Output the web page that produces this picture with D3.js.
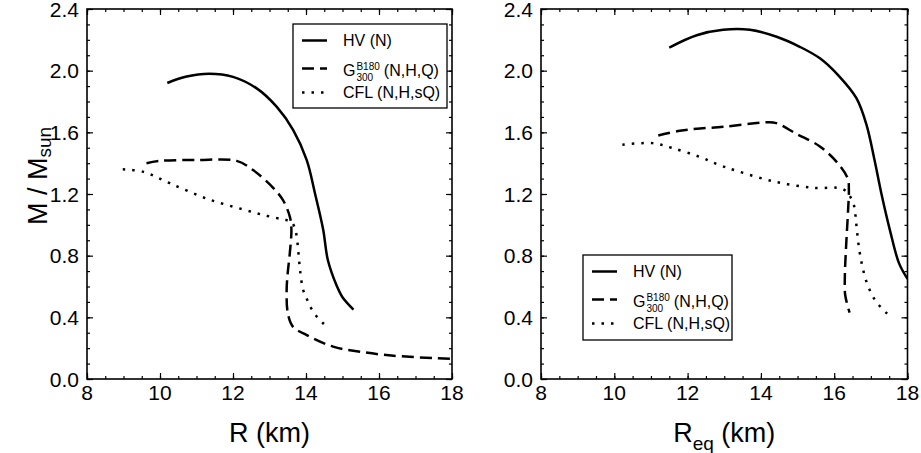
<!DOCTYPE html>
<html><head><meta charset="utf-8">
<script src="https://cdn.jsdelivr.net/npm/d3@7"></script>
<style>html,body{margin:0;padding:0;background:#fff;}svg{display:block;}text{font-family:"Liberation Sans",Arial,Helvetica,sans-serif;fill:#000;}</style>
</head><body>
<svg id="c" width="921" height="453"></svg>
<script>
// ---------- data ----------
const seriesNames = ["HV (N)", "G (N,H,Q)", "CFL (N,H,sQ)"];
const xTicks = [8, 10, 12, 14, 16, 18];
const yTicks = [0.0, 0.4, 0.8, 1.2, 1.6, 2.0, 2.4];

// left panel: R (km) vs M/Msun
const leftHV_R  = [10.2, 10.7, 11.35, 12.0, 12.65, 13.2, 13.65, 14.02, 14.25, 14.47, 14.6, 14.85, 15.0, 15.3];
const leftHV_M  = [1.92, 1.96, 1.98, 1.96, 1.885, 1.765, 1.615, 1.42, 1.20, 0.97, 0.77, 0.60, 0.53, 0.45];
const leftG_R   = [9.63, 10.0, 11.0, 12.1, 12.55, 13.1, 13.37, 13.56, 13.6, 13.55, 13.5, 13.47, 13.5, 13.64, 14.02, 14.74, 15.48, 16.4, 18.0];
const leftG_M   = [1.40, 1.415, 1.42, 1.415, 1.355, 1.24, 1.16, 1.05, 0.97, 0.80, 0.69, 0.58, 0.43, 0.34, 0.285, 0.21, 0.177, 0.151, 0.13];
const leftCFL_R = [8.98, 9.53, 10.27, 11.28, 12.27, 12.9, 13.37, 13.6, 13.72, 13.79, 13.84, 13.92, 14.02, 14.14, 14.31, 14.49];
const leftCFL_M = [1.36, 1.345, 1.27, 1.17, 1.10, 1.06, 1.035, 1.02, 0.955, 0.825, 0.70, 0.58, 0.52, 0.46, 0.40, 0.357];

// right panel: R_eq (km) vs M/Msun
const rightHV_R  = [11.5, 12.25, 12.97, 13.7, 14.43, 15.06, 15.61, 16.15, 16.61, 16.88, 17.1, 17.29, 17.52, 17.77, 18.0];
const rightHV_M  = [2.15, 2.23, 2.265, 2.265, 2.22, 2.155, 2.08, 1.96, 1.82, 1.65, 1.42, 1.20, 0.966, 0.75, 0.65];
const rightG_R   = [11.2, 11.79, 12.34, 12.97, 14.15, 14.42, 14.97, 15.6, 16.06, 16.37, 16.4, 16.38, 16.32, 16.29, 16.3, 16.42];
const rightG_M   = [1.58, 1.61, 1.625, 1.636, 1.665, 1.66, 1.59, 1.51, 1.41, 1.30, 1.225, 1.10, 0.84, 0.66, 0.545, 0.43];
const rightCFL_R = [10.22, 11.04, 11.56, 12.34, 12.84, 13.34, 14.38, 15.43, 16.25, 16.52, 16.6, 16.66, 16.75, 16.89, 17.12, 17.48];
const rightCFL_M = [1.52, 1.53, 1.50, 1.44, 1.39, 1.35, 1.28, 1.24, 1.23, 1.14, 1.01, 0.88, 0.75, 0.625, 0.51, 0.415];

// ---------- drawing ----------
const svg = d3.select("#c");
const dashStyles = [null, "12,6", "2.5,7"];
const zip = (a, b) => a.map((v, i) => [v, b[i]]);

function panel(x0, x1, y0, y1, series, xTitleMain, xTitleSub, legendBox, showYTitle) {
  const x = d3.scaleLinear().domain([8, 18]).range([x0, x1]);
  const y = d3.scaleLinear().domain([0, 2.4]).range([y1, y0]);
  const g = svg.append("g");
  const clipId = "clip" + x0;
  svg.append("clipPath").attr("id", clipId).append("rect")
    .attr("x", x0).attr("y", y0).attr("width", x1 - x0).attr("height", y1 - y0);

  const xMinor = d3.range(8, 18.001, 0.5);
  const yMinor = d3.range(0, 2.4001, 0.1);
  const axStyle = s => s.call(a => a.select(".domain").remove())
    .call(a => a.selectAll("text").remove())
    .call(a => a.selectAll("line").attr("stroke", "#000").attr("stroke-width", 1.2));
  g.append("g").attr("transform", `translate(0,${y1})`)
    .call(d3.axisTop(x).tickValues(xMinor).tickSize(3).tickFormat("")).call(axStyle);
  g.append("g").attr("transform", `translate(0,${y0})`)
    .call(d3.axisBottom(x).tickValues(xMinor).tickSize(3).tickFormat("")).call(axStyle);
  g.append("g").attr("transform", `translate(${x0},0)`)
    .call(d3.axisRight(y).tickValues(yMinor).tickSize(3).tickFormat("")).call(axStyle);
  g.append("g").attr("transform", `translate(${x1},0)`)
    .call(d3.axisLeft(y).tickValues(yMinor).tickSize(3).tickFormat("")).call(axStyle);
  g.append("g").attr("transform", `translate(0,${y1})`)
    .call(d3.axisTop(x).tickValues(xTicks).tickSize(6).tickFormat("")).call(axStyle);
  g.append("g").attr("transform", `translate(0,${y0})`)
    .call(d3.axisBottom(x).tickValues(xTicks).tickSize(6).tickFormat("")).call(axStyle);
  g.append("g").attr("transform", `translate(${x0},0)`)
    .call(d3.axisRight(y).tickValues(yTicks).tickSize(6).tickFormat("")).call(axStyle);
  g.append("g").attr("transform", `translate(${x1},0)`)
    .call(d3.axisLeft(y).tickValues(yTicks).tickSize(6).tickFormat("")).call(axStyle);

  g.append("rect").attr("x", x0).attr("y", y0).attr("width", x1 - x0).attr("height", y1 - y0)
    .attr("fill", "none").attr("stroke", "#000").attr("stroke-width", 1.6);

  g.selectAll(".xl").data(xTicks).enter().append("text")
    .attr("x", d => x(d)).attr("y", y1 + 21).attr("text-anchor", "middle")
    .attr("font-size", 21).text(d => d);
  g.selectAll(".yl").data(yTicks).enter().append("text")
    .attr("x", x0 - 8).attr("y", d => y(d) + 7.5).attr("text-anchor", "end")
    .attr("font-size", 21).text(d => d3.format(".1f")(d));

  const xt = g.append("text").attr("x", (x0 + x1) / 2).attr("y", 442)
    .attr("text-anchor", "middle").attr("font-size", 27);
  xt.append("tspan").text(xTitleMain);
  if (xTitleSub) {
    xt.append("tspan").attr("font-size", 19).attr("dy", 8).text(xTitleSub);
    xt.append("tspan").attr("dy", -8).text(" (km)");
  } else {
    xt.append("tspan").text(" (km)");
  }

  if (showYTitle) {
    const yt = svg.append("text").attr("transform", `translate(47,${(y0 + y1) / 2 - 18}) rotate(-90)`)
      .attr("text-anchor", "middle").attr("font-size", 27);
    yt.append("tspan").text("M / M");
    yt.append("tspan").attr("font-size", 19).attr("dy", 4).text("sun");
  }

  const line = d3.line().x(d => x(d[0])).y(d => y(d[1])).curve(d3.curveCatmullRom.alpha(0.5));
  const cg = g.append("g").attr("clip-path", `url(#${clipId})`);
  series.forEach((s, i) => {
    cg.append("path").attr("d", line(s)).attr("fill", "none").attr("stroke", "#000")
      .attr("stroke-width", 2.5).attr("stroke-dasharray", dashStyles[i]);
  });

  const [lx, ly, lw, lh] = legendBox;
  const lg = g.append("g");
  lg.append("rect").attr("x", lx).attr("y", ly).attr("width", lw).attr("height", lh)
    .attr("fill", "#fff").attr("stroke", "#000").attr("stroke-width", 1.3);
  const sampleY = [16.5, 44.5, 68.5];
  const textY = [22, 51.5, 74];
  seriesNames.forEach((nm, i) => {
    lg.append("line").attr("x1", lx + 9).attr("x2", lx + 34)
      .attr("y1", ly + sampleY[i]).attr("y2", ly + sampleY[i])
      .attr("stroke", "#000").attr("stroke-width", 2.5).attr("stroke-dasharray", dashStyles[i]);
    const tx = lx + 50, ty = ly + textY[i];
    if (i === 1) {
      const gT = lg.append("text").attr("x", tx).attr("y", ty).attr("font-size", 16).text("G");
      const gw = gT.node().getComputedTextLength();
      const sup = lg.append("text").attr("x", tx + gw + 1).attr("y", ty - 6).attr("font-size", 10).text("B180");
      const sub = lg.append("text").attr("x", tx + gw + 1).attr("y", ty + 5).attr("font-size", 10).text("300");
      const w = Math.max(sup.node().getComputedTextLength(), sub.node().getComputedTextLength());
      lg.append("text").attr("x", tx + gw + 1 + w + 4).attr("y", ty).attr("font-size", 16).text("(N,H,Q)");
    } else {
      lg.append("text").attr("x", tx).attr("y", ty).attr("font-size", 16).text(nm);
    }
  });
}

panel(87, 452, 9, 379,
  [zip(leftHV_R, leftHV_M), zip(leftG_R, leftG_M), zip(leftCFL_R, leftCFL_M)],
  "R", null, [293, 24, 154, 84], true);
panel(541, 907.5, 9, 379,
  [zip(rightHV_R, rightHV_M), zip(rightG_R, rightG_M), zip(rightCFL_R, rightCFL_M)],
  "R", "eq", [583, 255, 149, 85], false);
</script>
</body></html>
